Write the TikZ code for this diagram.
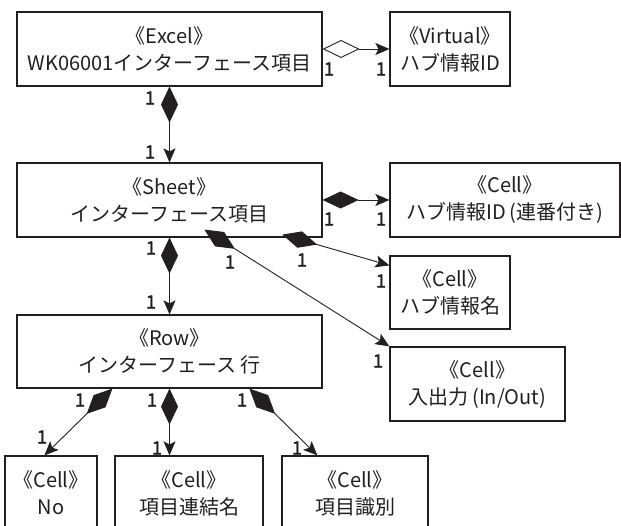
\documentclass[tikz,border=0pt]{standalone}
\usepackage{fontspec}
\setmainfont{Noto Sans CJK JP}
\newfontfamily\onefont[FakeBold=2.2]{Noto Sans CJK JP}
\usetikzlibrary{arrows.meta}
\definecolor{ink}{HTML}{231F20}
\tikzset{
  cls/.style={draw=ink, line width=1.2pt, inner sep=0pt, align=center,
    text=ink, font=\fontsize{20}{27}\selectfont},
  mult/.style={text=ink, inner sep=0pt, font=\onefont\fontsize{18}{18}\selectfont},
  link/.style={draw=ink, line width=0.9pt},
  comp/.style={link, {Diamond[length=36pt,width=17pt,fill=ink]}-{Stealth[length=14pt,width=12pt,inset=3pt]}},
  aggr/.style={link, {Diamond[open,length=37pt,width=18pt]}-{Stealth[length=14pt,width=12pt,inset=3pt]}},
}
\begin{document}
\begin{tikzpicture}[x=1pt,y=-1pt]
\useasboundingbox (0,0) rectangle (621,526);
\fill[white] (0,0) rectangle (621,526);
\clip (0,0) rectangle (621,526);

% classes
\node[cls, minimum width=305pt, minimum height=74pt] (excel) at (169.5,49) {《Excel》\\WK06001インターフェース項目};
\node[cls, minimum width=120pt, minimum height=74pt] (virtual) at (450,49) {《Virtual》\\ハブ情報ID};
\node[cls, minimum width=305pt, minimum height=74pt] (sheet) at (169.5,200) {《Sheet》\\インターフェース項目};
\node[cls, minimum width=230pt, minimum height=74pt] (hubid) at (505,200) {《Cell》\\ハブ情報ID\,(連番付き)};
\node[cls, minimum width=120pt, minimum height=73pt] (hubname) at (450,292.5) {《Cell》\\ハブ情報名};
\node[cls, minimum width=175pt, minimum height=74pt] (inout) at (477.5,384) {《Cell》\\入出力\,(In/Out)};
\node[cls, minimum width=305pt, minimum height=73pt] (row) at (169.5,351.5) {《Row》\\インターフェース 行};
\node[cls, minimum width=92pt, minimum height=74pt] (no) at (51,493) {《Cell》\\No};
\node[cls, minimum width=148pt, minimum height=74pt] (rename) at (189,493) {《Cell》\\項目連結名};
\node[cls, minimum width=146pt, minimum height=74pt] (kind) at (355,493) {《Cell》\\項目識別};

% associations
\draw[aggr] (excel.east) -- (virtual.west);
\draw[comp] (excel.south) -- (sheet.north);
\draw[comp] (sheet.east) -- (hubid.west);
\draw[comp] ([xshift=266pt,yshift=3pt]sheet.south west) -- ([yshift=-10pt]hubname.north west);
\draw[comp] ([xshift=188pt,yshift=8pt]sheet.south west) -- (inout.north west);
\draw[comp] (sheet.south) -- (row.north);
\draw[comp] ([xshift=96pt]row.south west) -- ([xshift=40pt]no.north west);
\draw[comp] (row.south) -- (row.south |- rename.north);
\draw[comp] ([xshift=233pt]row.south west) -- ([xshift=36pt]kind.north west);

% multiplicities
\node[mult] (m1) at (329,69) {1};
\node[mult] (m2) at (381,69) {1};
\node[mult] (m3) at (150,98) {1};
\node[mult] (m4) at (150,152) {1};
\node[mult] (m5) at (329,219) {1};
\node[mult] (m6) at (381,219) {1};
\node[mult] (m7) at (302,260) {1};
\node[mult] (m8) at (381,281) {1};
\node[mult] (m9) at (230,262) {1};
\node[mult] (m10) at (378,361) {1};
\node[mult] (m11) at (151,248) {1};
\node[mult] (m12) at (151,302) {1};
\node[mult] (m13) at (80,400) {1};
\node[mult] (m14) at (42,437) {1};
\node[mult] (m15) at (152,400) {1};
\node[mult] (m16) at (157,448) {1};
\node[mult] (m17) at (242,400) {1};
\node[mult] (m18) at (297,448) {1};
\end{tikzpicture}
\end{document}
